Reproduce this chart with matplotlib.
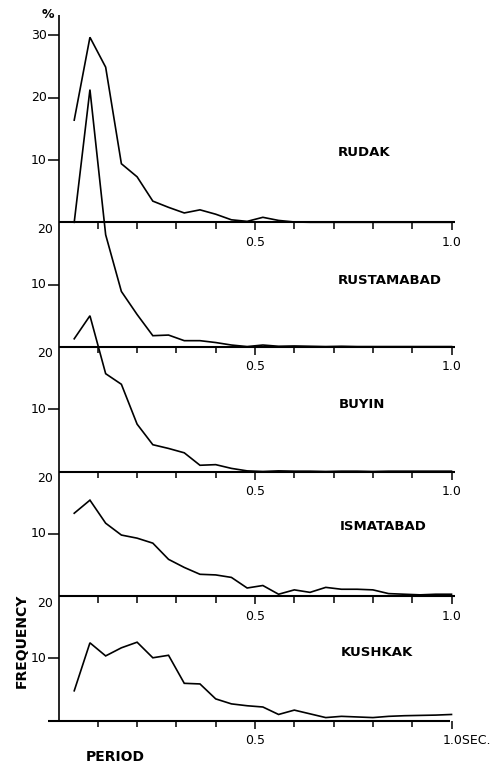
import matplotlib
matplotlib.use('Agg')
import matplotlib.pyplot as plt

# ---------------- data ----------------
periods = [0.04, 0.08, 0.12, 0.16, 0.20, 0.24, 0.28, 0.32, 0.36, 0.40,
           0.44, 0.48, 0.52, 0.56, 0.60, 0.64, 0.68, 0.72, 0.76, 0.80,
           0.84, 0.88, 0.92, 0.96, 1.00]

stations = ['RUDAK', 'RUSTAMABAD', 'BUYIN', 'ISMATABAD', 'KUSHKAK']

rudak = [16.4, 29.7, 24.9, 9.4, 7.3, 3.4, 2.4, 1.5, 2.0, 1.3,
         0.4, 0.15, 0.8, 0.3, 0.05, 0, 0, 0, 0, 0,
         0, 0, 0, 0, 0]
rustamabad = [20.0, 41.3, 18.0, 8.9, 5.2, 1.8, 1.9, 1.0, 1.0, 0.7,
              0.3, 0.05, 0.3, 0.1, 0.15, 0.1, 0.05, 0.1, 0.05, 0.05,
              0.05, 0.05, 0.05, 0.05, 0.05]
buyin = [21.3, 25.0, 15.7, 14.0, 7.6, 4.3, 3.7, 3.0, 1.0, 1.1,
         0.5, 0.1, 0.0, 0.1, 0.05, 0.05, 0.0, 0.05, 0.05, 0.0,
         0.05, 0.05, 0.05, 0.05, 0.05]
ismatabad = [13.3, 15.4, 11.7, 9.8, 9.3, 8.5, 5.9, 4.6, 3.5, 3.4,
             3.0, 1.3, 1.7, 0.3, 1.0, 0.6, 1.4, 1.1, 1.1, 1.0,
             0.4, 0.3, 0.2, 0.3, 0.3]
kushkak = [4.8, 12.5, 10.4, 11.7, 12.6, 10.1, 10.5, 6.0, 5.9, 3.5,
           2.7, 2.4, 2.2, 1.0, 1.7, 1.1, 0.5, 0.7, 0.6, 0.5,
           0.7, 0.8, 0.85, 0.9, 1.0]

series = [rudak, rustamabad, buyin, ismatabad, kushkak]
panel_height = 20                      # each panel spans 20 %
baselines = [80, 60, 40, 20, 0]        # stacked offsets
x_ticks = [0.1, 0.2, 0.3, 0.4, 0.5, 0.6, 0.7, 0.8, 0.9, 1.0]
x_tick_labels = {0.5: '0.5', 1.0: '1.0'}
rudak_y_ticks = [10, 20, 30]
other_y_ticks = [10]

# ---------------- layout ----------------
W, H = 498, 772
X0_PX, X_SCALE = 58.5, 393.0       # px of period 0, px per 1.0 s
Y0_PX, Y_SCALE = 720.7, 6.23       # px of lowest baseline, px per 1 %

fig = plt.figure(figsize=(W / 100, H / 100), dpi=100)
ax = fig.add_axes([0, 0, 1, 1])
ax.set_xlim(-X0_PX / X_SCALE, (W - X0_PX) / X_SCALE)
ax.set_ylim(-(H - Y0_PX) / Y_SCALE, Y0_PX / Y_SCALE)
ax.axis('off')

def dx(px):
    return px / X_SCALE

def dy(px):
    return px / Y_SCALE

K = 'black'
FONT = 'DejaVu Sans'

# left axis line
ax.plot([0, 0], [0, baselines[0] + 33.3], color=K, lw=1.2, solid_capstyle='butt')

label_pos = [(338, 153), (338, 281), (339, 405), (340, 527), (341, 652)]

for i, (name, vals, b) in enumerate(zip(stations, series, baselines)):
    last = (i == len(stations) - 1)
    # baseline
    x_left = -dx(11) if last else 0
    x_right = 0.997 if last else 1.008
    ax.plot([x_left, x_right], [b, b], color=K, lw=1.5, solid_capstyle='butt')
    # x ticks
    for t in x_ticks:
        L = 8 if t in x_tick_labels else 6.5
        ax.plot([t, t], [b, b - dy(L)], color=K, lw=1.1, solid_capstyle='butt')
    # x tick labels
    for t, lab in x_tick_labels.items():
        if last and t == 1.0:
            ax.text(dx(443 - X0_PX), b - dy(19.5), '1.0SEC.', ha='left', va='center',
                    fontsize=9, family=FONT, color=K)
        else:
            ax.text(t + dx(0.5), b - dy(20), lab, ha='center', va='center',
                    fontsize=9, family=FONT, color=K)
    # y ticks
    ticks = rudak_y_ticks if i == 0 else other_y_ticks
    for t in ticks:
        ax.plot([-dx(11), 0], [b + t, b + t], color=K, lw=1.1, solid_capstyle='butt')
        ax.text(-dx(12), b + t, str(t), ha='right', va='center',
                fontsize=9, family=FONT, color=K)
    if i > 0:
        ax.text(-dx(5.5), b + panel_height - dy(7), str(panel_height),
                ha='right', va='center', fontsize=9, family=FONT, color=K)
    # curve
    ax.plot(periods, [b + v for v in vals], color=K, lw=1.2, solid_joinstyle='miter')
    # station name
    lx, ly = label_pos[i]
    ax.text(dx(lx - X0_PX), (Y0_PX - ly) / Y_SCALE, name, ha='left', va='center',
            fontsize=9.5, fontweight='bold', family=FONT, color=K)

# percent sign
ax.text(dx(48 - X0_PX), (Y0_PX - 14) / Y_SCALE, '%', ha='center', va='center',
        fontsize=9, fontweight='bold', family=FONT, color=K)

# axis titles
ax.text(dx(22 - X0_PX), (Y0_PX - 641) / Y_SCALE, 'FREQUENCY', rotation=90,
        ha='center', va='center', fontsize=10, fontweight='bold', family=FONT, color=K)
ax.text(dx(115 - X0_PX), (Y0_PX - 757) / Y_SCALE, 'PERIOD', ha='center', va='center',
        fontsize=10, fontweight='bold', family=FONT, color=K)

fig.savefig('out.png', dpi=100, facecolor='white')
